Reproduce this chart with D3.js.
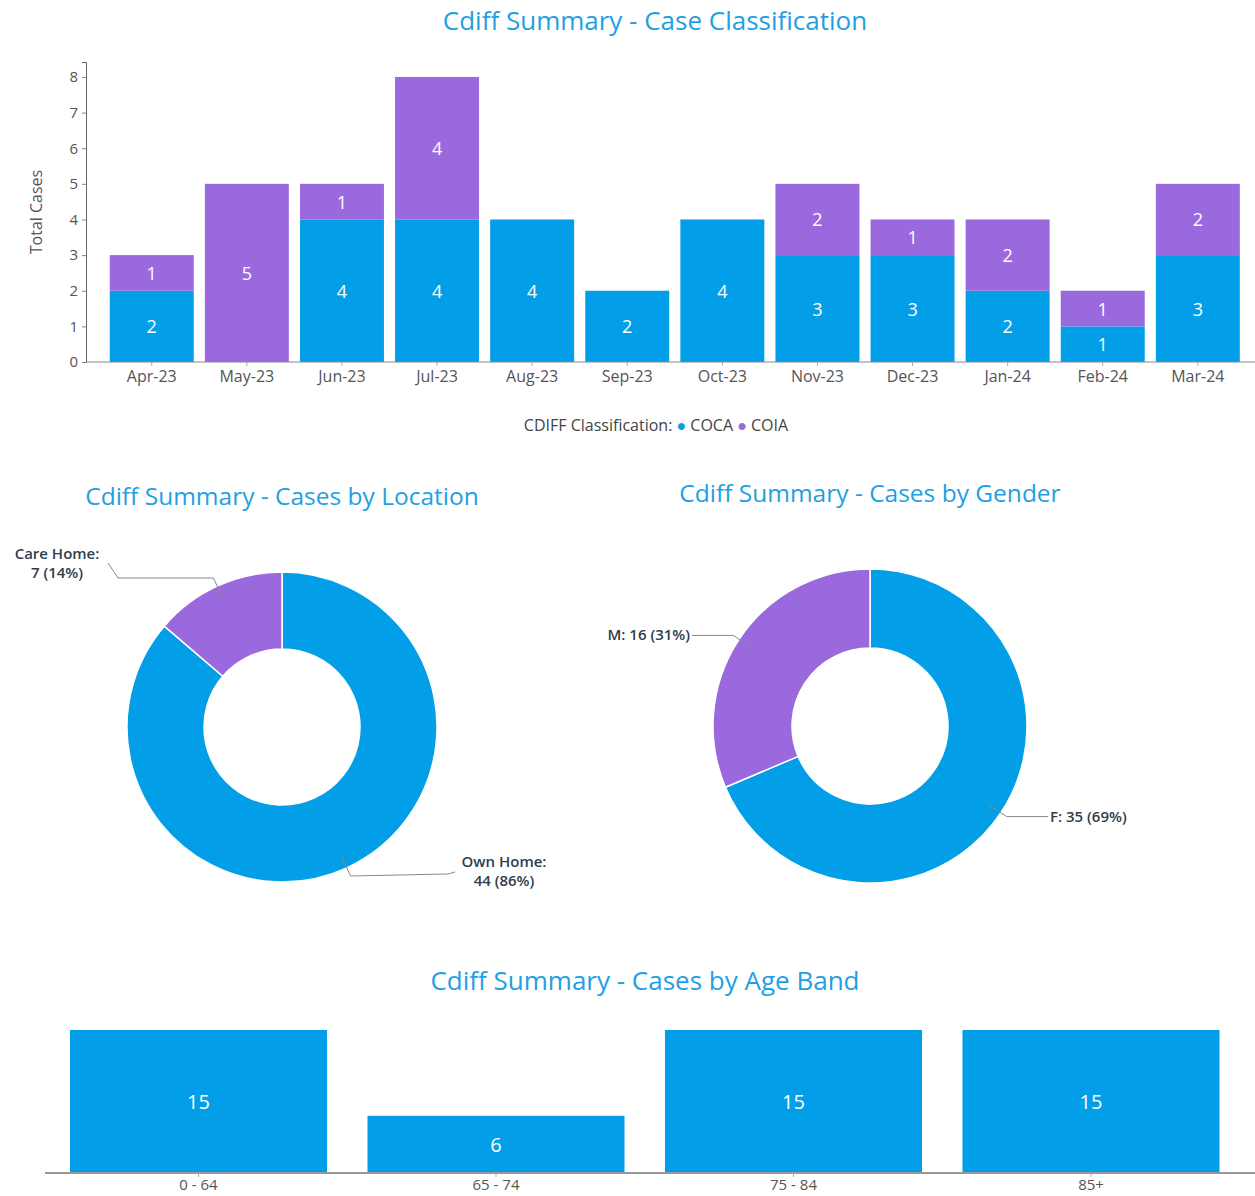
<!DOCTYPE html>
<html>
<head>
<meta charset="utf-8">
<script src="https://cdn.jsdelivr.net/npm/d3@7"></script>
<style>
    body { margin: 0; background: #fff; }
    svg { display: block; font-family: "Open Sans", sans-serif; }
</style>
</head>
<body>
<div class="chartContainer"></div>
<script>
// Case classification by month
const months = ["Apr-23", "May-23", "Jun-23", "Jul-23", "Aug-23", "Sep-23", "Oct-23", "Nov-23", "Dec-23", "Jan-24", "Feb-24", "Mar-24"];
const cocaCases = [2, 0, 4, 4, 4, 2, 4, 3, 3, 2, 1, 3];
const coiaCases = [1, 5, 1, 4, 0, 0, 0, 2, 1, 2, 1, 2];
const yTicks = [0, 1, 2, 3, 4, 5, 6, 7, 8];

// Location / gender donuts
const locationNames = ["Own Home", "Care Home"];
const locationCounts = [44, 7];
const genderNames = ["F", "M"];
const genderCounts = [35, 16];

// Age bands
const ageBands = ["0 - 64", "65 - 74", "75 - 84", "85+"];
const ageCounts = [15, 6, 15, 15];

const BLUE = "#029fe8";
const PURPLE = "#9b69de";
const TITLE = "#1ea0e2";
const TICK = "#555";
const LABEL = "#2f3d4e";

const W = 1255, H = 1196;

const svg = d3.select(".chartContainer").append("svg")
    .attr("width", W)
    .attr("height", H);

function title(text, x, y, size) {
    svg.append("text")
        .attr("x", x)
        .attr("y", y)
        .attr("text-anchor", "middle")
        .attr("dominant-baseline", "middle")
        .attr("fill", TITLE)
        .style("font-size", size + "px")
        .text(text);
}

// ------------------------
// Case classification bars
// ------------------------

title("Cdiff Summary - Case Classification", 655, 23, 26);

const x = d3.scaleBand()
    .domain(months)
    .range([86, 1263.6])
    .paddingInner(0.117)
    .paddingOuter(0.25);

const y = d3.scaleLinear()
    .domain([0, 8.42])
    .range([362, 62]);

const rows = months.map((m, i) => ({ month: m, COCA: cocaCases[i], COIA: coiaCases[i] }));
const stacked = d3.stack().keys(["COCA", "COIA"])(rows);
const colour = { COCA: BLUE, COIA: PURPLE };

const classChart = svg.append("g");

stacked.forEach(layer => {
    const g = classChart.append("g");
    g.selectAll("rect")
        .data(layer.filter(d => d[1] - d[0] > 0))
        .join("rect")
        .attr("x", d => x(d.data.month))
        .attr("y", d => y(d[1]))
        .attr("width", x.bandwidth())
        .attr("height", d => y(d[0]) - y(d[1]))
        .attr("fill", colour[layer.key]);

    g.selectAll("text")
        .data(layer.filter(d => d[1] - d[0] > 0))
        .join("text")
        .attr("x", d => x(d.data.month) + x.bandwidth() / 2)
        .attr("y", d => (y(d[0]) + y(d[1])) / 2)
        .attr("text-anchor", "middle")
        .attr("dominant-baseline", "central")
        .attr("fill", "#fff")
        .style("font-size", "18px")
        .text(d => d[1] - d[0]);
});

const yAxis = classChart.append("g")
    .attr("transform", "translate(86,0)")
    .call(d3.axisLeft(y).tickValues(yTicks).tickSize(4).tickPadding(4));
yAxis.select(".domain").attr("stroke", "#666");
yAxis.selectAll(".tick line").attr("stroke", "#888");
yAxis.selectAll(".tick text").attr("fill", TICK).style("font-size", "15px").style("font-family", "Open Sans");

const xAxis = classChart.append("g")
    .attr("transform", "translate(0,362)")
    .call(d3.axisBottom(x).tickSize(4).tickPadding(5).tickSizeOuter(0));
xAxis.select(".domain").attr("stroke", "#888").attr("d", "M86,0H1255");
xAxis.selectAll(".tick line").attr("stroke", "#aaa");
xAxis.selectAll(".tick text").attr("fill", TICK).style("font-size", "16px").style("font-family", "Open Sans");

svg.append("text")
    .attr("transform", "translate(38,212) rotate(-90)")
    .attr("text-anchor", "middle")
    .attr("dominant-baseline", "middle")
    .attr("fill", TICK)
    .style("font-size", "16px")
    .text("Total Cases");

// legend
const legend = svg.append("text")
    .attr("x", 656)
    .attr("y", 427)
    .attr("text-anchor", "middle")
    .attr("dominant-baseline", "middle")
    .attr("fill", "#444")
    .style("font-size", "16px")
    .attr("xml:space", "preserve");
legend.append("tspan").text("CDIFF Classification: ");
legend.append("tspan").attr("fill", BLUE).text("\u25CF ");
legend.append("tspan").text("COCA ");
legend.append("tspan").attr("fill", PURPLE).text("\u25CF ");
legend.append("tspan").text("COIA");

// ------
// Donuts
// ------

function donut(cx, cy, outer, names, counts, labelFor) {
    const total = d3.sum(counts);
    const data = names.map((n, i) => ({ name: n, value: counts[i] }));
    const pie = d3.pie().sort(null).value(d => d.value);
    const arcs = pie(data);
    const arc = d3.arc().innerRadius(78).outerRadius(outer);
    const g = svg.append("g").attr("transform", `translate(${cx},${cy})`);

    g.selectAll("path")
        .data(arcs)
        .join("path")
        .attr("d", arc)
        .attr("fill", (d, i) => i === 0 ? BLUE : PURPLE)
        .attr("stroke", "#fff")
        .attr("stroke-width", 1.5);

    arcs.forEach(a => {
        const mid = (a.startAngle + a.endAngle) / 2;
        const pt = r => [Math.sin(mid) * r, -Math.cos(mid) * r];
        const p0 = pt(141);
        const p1 = pt(164);
        const pct = Math.round(a.data.value / total * 100);
        const lab = labelFor(a.data.name, a.data.value, pct, p1);

        g.append("path")
            .attr("d", d3.line()([p0, p1, ...lab.line]))
            .attr("fill", "none")
            .attr("stroke", "#888")
            .attr("stroke-width", 1);

        const t = g.append("text")
            .attr("x", lab.x)
            .attr("y", lab.y)
            .attr("text-anchor", lab.anchor)
            .attr("fill", LABEL)
            .style("font-size", "15px")
            .style("font-weight", "600");
        lab.lines.forEach((s, i) => {
            t.append("tspan")
                .attr("x", lab.x)
                .attr("dy", i === 0 ? 0 : 19)
                .text(s);
        });
    });
}

title("Cdiff Summary - Cases by Location", 282, 498, 24.5);
donut(282, 727, 155, locationNames, locationCounts, (name, v, pct, p1) => {
    const left = p1[0] < 0;
    if (left) {
        return {
            line: [[-164, p1[1]], [-174, p1[1] - 15]],
            x: -225, y: -168, anchor: "middle",
            lines: [name + ":", `${v} (${pct}%)`]
        };
    }
    return {
        line: [[166, p1[1] - 2], [173, p1[1] - 4]],
        x: 222, y: 140, anchor: "middle",
        lines: [name + ":", `${v} (${pct}%)`]
    };
});

title("Cdiff Summary - Cases by Gender", 870, 495, 24.5);
donut(870, 726, 157, genderNames, genderCounts, (name, v, pct, p1) => {
    const left = p1[0] < 0;
    return {
        line: [[left ? -178 : 178, p1[1]]],
        x: left ? -180 : 180, y: p1[1] + 5, anchor: left ? "end" : "start",
        lines: [`${name}: ${v} (${pct}%)`]
    };
});

// --------
// Age band
// --------

title("Cdiff Summary - Cases by Age Band", 645, 983, 26);

const xa = d3.scaleBand()
    .domain(ageBands)
    .range([45, 1244.5])
    .paddingInner(0.136)
    .paddingOuter(0.084);

const ya = d3.scaleLinear()
    .domain([0, 15])
    .range([1173, 1030]);

const age = svg.append("g");

age.selectAll("rect")
    .data(ageCounts)
    .join("rect")
    .attr("x", (d, i) => xa(ageBands[i]))
    .attr("y", d => ya(d))
    .attr("width", xa.bandwidth())
    .attr("height", d => ya(0) - ya(d))
    .attr("fill", BLUE);

age.selectAll("text.val")
    .data(ageCounts)
    .join("text")
    .attr("class", "val")
    .attr("x", (d, i) => xa(ageBands[i]) + xa.bandwidth() / 2)
    .attr("y", d => (ya(0) + ya(d)) / 2)
    .attr("text-anchor", "middle")
    .attr("dominant-baseline", "central")
    .attr("fill", "#fff")
    .style("font-size", "20px")
    .text(d => d);

const ageAxis = age.append("g")
    .attr("transform", "translate(0,1173)")
    .call(d3.axisBottom(xa).tickSize(4).tickPadding(2).tickSizeOuter(0));
ageAxis.select(".domain").attr("stroke", "#999").attr("stroke-width", 2).attr("d", "M45,0H1255");
ageAxis.selectAll(".tick line").attr("stroke", "#aaa");
ageAxis.selectAll(".tick text").attr("fill", TICK).style("font-size", "15px").style("font-family", "Open Sans");
</script>
</body>
</html>
